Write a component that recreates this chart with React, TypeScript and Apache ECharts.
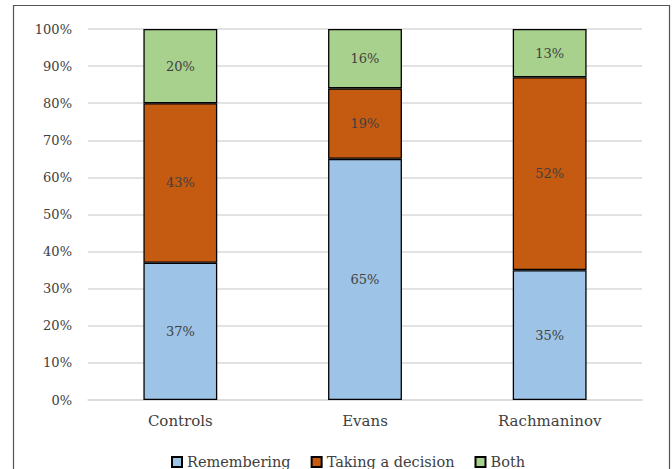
import React, { useEffect, useRef } from "react";
import * as echarts from "echarts";

const categories = ["Controls", "Evans", "Rachmaninov"];
const remembering = [37, 65, 35];
const takingDecision = [43, 19, 52];
const both = [20, 16, 13];
const yTicks = [0, 10, 20, 30, 40, 50, 60, 70, 80, 90, 100];

const FONT = "'DejaVu Serif', 'Liberation Serif', serif";
const TEXT = "#404040";

export default function App() {
  const ref = useRef<HTMLDivElement>(null);

  useEffect(() => {
    if (!ref.current) return;
    const chart = echarts.init(ref.current, undefined, { renderer: "svg" });

    const mkSeries = (name: string, data: number[], color: string) => ({
      name,
      type: "bar",
      stack: "total",
      data,
      barWidth: "40%",
      itemStyle: { color, borderColor: "#000", borderWidth: 1.3 },
      label: {
        show: true,
        position: "inside",
        formatter: "{c}%",
        color: TEXT,
        fontFamily: FONT,
        fontSize: 13,
      },
    });

    chart.setOption({
      animation: false,
      backgroundColor: "#fff",
      textStyle: { fontFamily: FONT },
      graphic: [
        {
          type: "rect",
          shape: { x: 13.5, y: 5.5, width: 656, height: 480 },
          style: { fill: "none", stroke: "#555", lineWidth: 1.2 },
          silent: true,
        },
      ],
      grid: { left: 88, right: 30, top: 29, bottom: 69, containLabel: false },
      legend: {
        left: 166,
        top: 449,
        itemWidth: 10,
        itemHeight: 10,
        itemGap: 20,
        icon: "rect",
        textStyle: { color: TEXT, fontFamily: FONT, fontSize: 14.5, lineHeight: 16 },
        data: ["Remembering", "Taking a decision", "Both"],
      },
      xAxis: {
        type: "category",
        data: categories,
        axisLine: { show: true, lineStyle: { color: "#d9d9d9", width: 1.5 } },
        axisTick: { show: false },
        axisLabel: { color: TEXT, fontFamily: FONT, fontSize: 15, margin: 13 },
      },
      yAxis: {
        type: "value",
        min: yTicks[0],
        max: yTicks[yTicks.length - 1],
        interval: 10,
        axisLine: { show: false },
        axisTick: { show: false },
        splitLine: { lineStyle: { color: "#d9d9d9", width: 1.5 } },
        axisLabel: {
          color: TEXT,
          fontFamily: FONT,
          fontSize: 13,
          margin: 16,
          formatter: "{value}%",
        },
      },
      series: [
        mkSeries("Remembering", remembering, "#9dc3e6"),
        mkSeries("Taking a decision", takingDecision, "#c55a11"),
        mkSeries("Both", both, "#a9d18e"),
      ],
    });

    return () => chart.dispose();
  }, []);

  return (
    <div
      ref={ref}
      style={{ position: "fixed", left: 0, top: 0, width: 672, height: 469 }}
    />
  );
}
